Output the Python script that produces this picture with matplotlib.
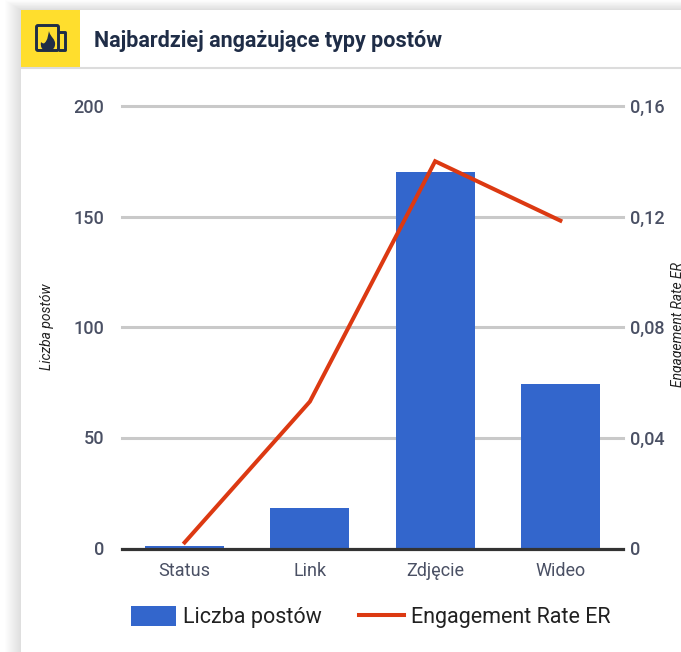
"""Najbardziej angażujące typy postów: combo chart in a dashboard card."""

import matplotlib

matplotlib.use("Agg")
import matplotlib.pyplot as plt
from matplotlib.lines import Line2D
from matplotlib.patches import FancyBboxPatch, PathPatch, Patch, Rectangle
from matplotlib.path import Path

categories = ["Status", "Link", "Zdjęcie", "Wideo"]
post_counts = [1, 18, 170, 74]
engagement_rate = [0.002, 0.053, 0.14, 0.1185]

left_ticks = [0, 50, 100, 150, 200]
right_ticks = [0, 0.04, 0.08, 0.12, 0.16]
right_tick_labels = ["0", "0,04", "0,08", "0,12", "0,16"]

W, H = 681, 652
BLUE = "#3366cc"
RED = "#dc3912"
NAVY = "#1f2d47"
GREY_TEXT = "#4a5064"

plt.rcParams["font.family"] = ["Roboto", "DejaVu Sans"]

fig = plt.figure(figsize=(W / 100, H / 100), dpi=100, facecolor="#ffffff")

# Pixel-space layer for the card, header and icon.
bg = fig.add_axes([0, 0, 1, 1], zorder=0)
bg.set_xlim(0, W)
bg.set_ylim(H, 0)
bg.axis("off")

# Soft shadow round the card.
for i in range(16, 0, -1):
    bg.add_patch(Rectangle((21 - i, 10 - i * 0.6), W, H, color="#000000", alpha=0.007, lw=0))
bg.add_patch(Rectangle((21, 10), W, H, color="#ffffff", lw=0))

bg.add_patch(Rectangle((21, 10), 59, 57, color="#ffde2d", lw=0))
bg.plot([21, W], [67.5, 67.5], color="#dcdcdc", lw=1.5, solid_capstyle="butt")
bg.text(94, 41, "Najbardziej angażujące typy postów", fontsize=15.5, fontweight="bold",
        color=NAVY, ha="left", va="center")

# Icon: framed flame.
bg.add_patch(FancyBboxPatch((36.5, 25.5), 22, 25, boxstyle="round,pad=0,rounding_size=1.5",
                            fc="none", ec=NAVY, lw=2.1))
bg.plot([60, 65, 65, 60], [32, 32, 50, 50], color=NAVY, lw=2.1)
flame = Path(
    [(49, 31), (50, 37), (56, 39), (55, 45), (54.5, 50), (50, 51), (47.5, 51),
     (43, 51), (40, 48), (41, 42), (42, 43), (43.5, 44), (44.5, 43), (48, 40), (48, 35), (49, 31)],
    [Path.MOVETO, Path.CURVE4, Path.CURVE4, Path.CURVE4, Path.CURVE4, Path.CURVE4, Path.CURVE4,
     Path.CURVE4, Path.CURVE4, Path.CURVE4, Path.CURVE4, Path.CURVE4, Path.CURVE4,
     Path.CURVE4, Path.CURVE4, Path.CURVE4],
)
bg.add_patch(PathPatch(flame, fc=NAVY, ec="none"))

# Chart area: x 122-623, y 106-548 in pixels.
ax = fig.add_axes([122 / W, 1 - 548 / H, 501 / W, 442 / H], zorder=1)
ax.patch.set_alpha(0)
x = range(len(categories))
ax.bar(x, post_counts, width=0.63, color=BLUE, zorder=2)
ax.set_xlim(-0.5, 3.5)
ax.set_ylim(0, 200)
ax.set_yticks(left_ticks)
ax.set_xticks(list(x))
ax.set_xticklabels(categories)
ax.yaxis.grid(True, color="#c9c9c9", lw=2.2, zorder=1)
ax.set_axisbelow(True)
gridlines = ax.get_ygridlines()
gridlines[0].set_visible(False)
for line in gridlines[1:]:
    line.set_clip_on(False)
ax.tick_params(axis="y", length=0, pad=13, labelsize=13, labelcolor=GREY_TEXT)
ax.tick_params(axis="x", length=0, pad=9, labelsize=13, labelcolor=GREY_TEXT)
for label in ax.get_xticklabels() + ax.get_yticklabels():
    label.set_fontweight("medium")
for spine in ("top", "left", "right"):
    ax.spines[spine].set_visible(False)
ax.spines["bottom"].set_color("#333333")
ax.spines["bottom"].set_linewidth(2.3)
ax.spines["bottom"].set_position(("outward", 0.8))
ax.spines["bottom"].set_zorder(3)

ax2 = ax.twinx()
ax2.patch.set_alpha(0)
ax2.plot(x, engagement_rate, color=RED, lw=2.9, solid_joinstyle="miter", zorder=4)
ax2.set_ylim(0, 0.16)
ax2.set_yticks(right_ticks)
ax2.set_yticklabels(right_tick_labels)
ax2.tick_params(axis="y", length=0, pad=5, labelsize=13, labelcolor=GREY_TEXT)
for label in ax2.get_yticklabels():
    label.set_fontweight("medium")
for spine in ax2.spines.values():
    spine.set_visible(False)

# Axis titles; the right one runs off the edge of its box in the original.
fig.text(47 / W, 1 - 327 / H, "Liczba postów", rotation=90, fontsize=10, style="italic",
         color="#222222", ha="center", va="center")
er_label = bg.text(678, 262, "Engagement Rate ER", rotation=90, fontsize=10, style="italic",
                   color="#222222", ha="center", va="top")
er_label.set_clip_path(Rectangle((600, 250), 81, 140, transform=bg.transData))
er_label.set_clip_on(True)

handles = [
    Patch(facecolor=BLUE, edgecolor="none", label="Liczba postów"),
    Line2D([0], [0], color=RED, lw=2.9, label="Engagement Rate ER"),
]
fig.legend(handles=handles, loc="center", bbox_to_anchor=(371 / W, 1 - 617 / H), ncol=2,
           frameon=False, fontsize=15.5, handlelength=2.09, handleheight=1.06,
           handletextpad=0.33, columnspacing=1.72, labelcolor="#212121")

fig.savefig("out.png", dpi=100, facecolor=fig.get_facecolor())
plt.close(fig)
